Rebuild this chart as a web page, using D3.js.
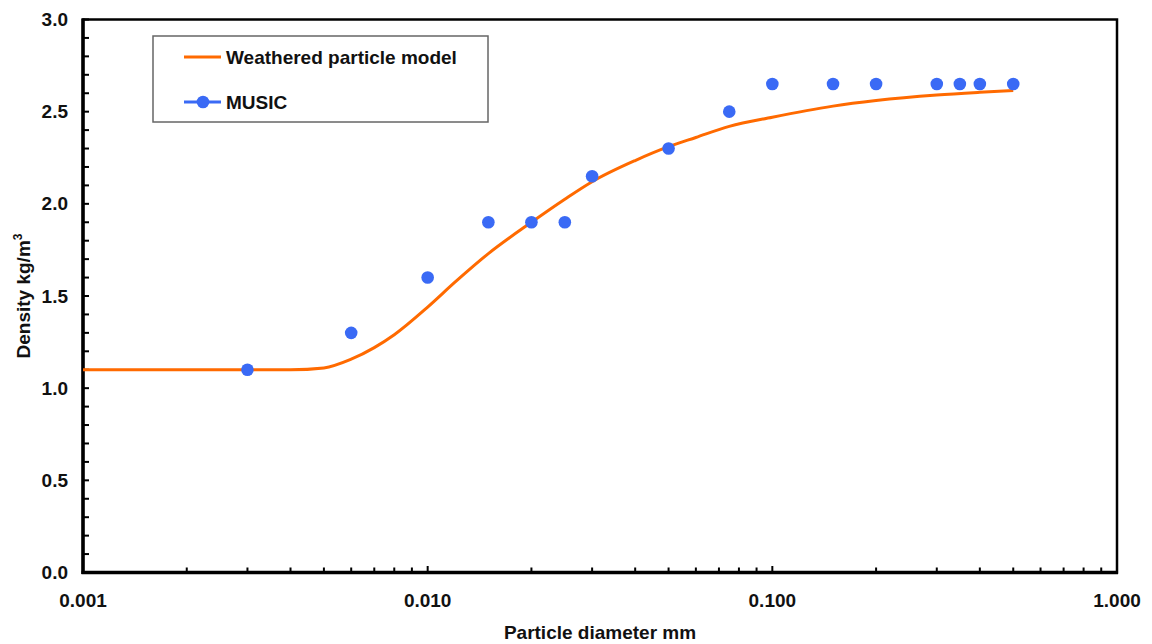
<!DOCTYPE html>
<html>
  <head>
    <meta charset="utf-8" />
    <title>Particle density</title>
    <script src="https://d3js.org/d3.v7.min.js"></script>
    <style>
      body { margin: 0; background: #fff; }
      text { font-family: "Liberation Sans", Arial, sans-serif; font-weight: bold; fill: #111; }
    </style>
  </head>
  <body>
    <script>
      // model curve
      let modelX = [0.001, 0.002, 0.003, 0.004, 0.005, 0.006, 0.007, 0.008, 0.01, 0.012, 0.015, 0.02,
        0.025, 0.03, 0.04, 0.05, 0.06, 0.075, 0.1, 0.15, 0.2, 0.3, 0.4, 0.5];
      let modelY = [1.1, 1.1, 1.1, 1.1, 1.11, 1.157, 1.22, 1.29, 1.44, 1.575, 1.73, 1.9,
        2.025, 2.12, 2.235, 2.31, 2.36, 2.42, 2.47, 2.53, 2.56, 2.59, 2.605, 2.615];
      // MUSIC points
      let musicX = [0.003, 0.006, 0.01, 0.015, 0.02, 0.025, 0.03, 0.05, 0.075, 0.1, 0.15, 0.2, 0.3, 0.35, 0.4, 0.5];
      let musicY = [1.1, 1.3, 1.6, 1.9, 1.9, 1.9, 2.15, 2.3, 2.5, 2.65, 2.65, 2.65, 2.65, 2.65, 2.65, 2.65];
      let yTicks = [0, 0.5, 1.0, 1.5, 2.0, 2.5, 3.0];
      let xTicks = [0.001, 0.01, 0.1, 1];
      let seriesNames = ["Weathered particle model", "MUSIC"];

      let width = 1152;
      let height = 644;
      let orange = "#ff6a00";
      let blue = "#3a6af5";

      let svg = d3.select("body").append("svg")
        .attr("width", width)
        .attr("height", height);

      let x = d3.scaleLog().domain([0.001, 1]).range([83, 1117]);
      let y = d3.scaleLinear().domain([0, 3]).range([572.5, 19.5]);

      // frame top/right
      svg.append("rect")
        .attr("x", 83).attr("y", 19.5)
        .attr("width", 1117 - 83).attr("height", 572.5 - 19.5)
        .attr("fill", "none").attr("stroke", "#000").attr("stroke-width", 2.5);

      // y minor ticks every 0.1
      let yMinor = d3.range(0, 31).map((d) => d / 10);
      svg.selectAll(".yminor")
        .data(yMinor)
        .join("line")
        .attr("x1", 83).attr("x2", 89)
        .attr("y1", (d) => y(d)).attr("y2", (d) => y(d))
        .attr("stroke", "#000").attr("stroke-width", 2);

      // x log minor ticks
      let xMinor = [];
      [0.001, 0.01, 0.1].forEach((dec) => {
        for (let k = 2; k <= 9; k++) xMinor.push(dec * k);
      });
      svg.selectAll(".xminor")
        .data(xMinor)
        .join("line")
        .attr("x1", (d) => x(d)).attr("x2", (d) => x(d))
        .attr("y1", 572.5).attr("y2", 567.5)
        .attr("stroke", "#000").attr("stroke-width", 2);
      svg.selectAll(".xmajor")
        .data(xTicks)
        .join("line")
        .attr("x1", (d) => x(d)).attr("x2", (d) => x(d))
        .attr("y1", 572.5).attr("y2", 566)
        .attr("stroke", "#000").attr("stroke-width", 2);

      // axis lines
      svg.append("line").attr("x1", 83).attr("x2", 83).attr("y1", 18.5).attr("y2", 574)
        .attr("stroke", "#000").attr("stroke-width", 3.5);
      svg.append("line").attr("x1", 81.5).attr("x2", 1118).attr("y1", 572.5).attr("y2", 572.5)
        .attr("stroke", "#000").attr("stroke-width", 3.5);

      // tick labels
      svg.selectAll(".ylab")
        .data(yTicks)
        .join("text")
        .attr("x", 68)
        .attr("y", (d) => y(d) + 6.5)
        .attr("text-anchor", "end")
        .attr("font-size", 19)
        .text((d) => d.toFixed(1));
      svg.selectAll(".xlab")
        .data(xTicks)
        .join("text")
        .attr("x", (d) => x(d))
        .attr("y", 607)
        .attr("text-anchor", "middle")
        .attr("font-size", 19)
        .text((d) => d.toFixed(3));

      // axis titles
      svg.append("text")
        .attr("x", 600).attr("y", 639)
        .attr("text-anchor", "middle")
        .attr("font-size", 19)
        .text("Particle diameter mm");
      let yt = svg.append("text")
        .attr("transform", "translate(30,296) rotate(-90)")
        .attr("text-anchor", "middle")
        .attr("font-size", 19);
      yt.append("tspan").text("Density kg/m");
      yt.append("tspan").attr("font-size", 12).attr("dy", -8).text("3");

      // model line
      let line = d3.line()
        .curve(d3.curveMonotoneX)
        .x((d) => x(d[0]))
        .y((d) => y(d[1]));
      svg.append("path")
        .datum(modelX.map((d, i) => [d, modelY[i]]))
        .attr("d", line)
        .attr("fill", "none")
        .attr("stroke", orange)
        .attr("stroke-width", 3);

      // MUSIC points
      svg.selectAll(".pt")
        .data(musicX.map((d, i) => [d, musicY[i]]))
        .join("circle")
        .attr("cx", (d) => x(d[0]))
        .attr("cy", (d) => y(d[1]))
        .attr("r", 6.3)
        .attr("fill", blue);

      // legend
      let lg = svg.append("g");
      lg.append("rect")
        .attr("x", 153).attr("y", 36).attr("width", 335).attr("height", 86)
        .attr("fill", "#fff").attr("stroke", "#666").attr("stroke-width", 1.5);
      lg.append("line").attr("x1", 184).attr("x2", 221).attr("y1", 57).attr("y2", 57)
        .attr("stroke", orange).attr("stroke-width", 3);
      lg.append("text").attr("x", 226).attr("y", 64).attr("font-size", 19).text(seriesNames[0]);
      lg.append("line").attr("x1", 184).attr("x2", 221).attr("y1", 102).attr("y2", 102)
        .attr("stroke", blue).attr("stroke-width", 3);
      lg.append("circle").attr("cx", 203).attr("cy", 102).attr("r", 6.3).attr("fill", blue);
      lg.append("text").attr("x", 226).attr("y", 109).attr("font-size", 19).text(seriesNames[1]);
    </script>
  </body>
</html>
